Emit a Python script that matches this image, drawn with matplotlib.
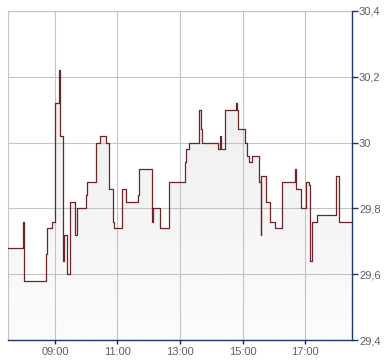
import numpy as np
import pandas as pd
import matplotlib
matplotlib.use("Agg")
import matplotlib.pyplot as plt
import matplotlib.dates as mdates
from matplotlib.ticker import FuncFormatter

plt.rcParams['font.family'] = ['Liberation Sans', 'DejaVu Sans']

# intraday trades (step line, value holds until next time)
times = ["07:30", "07:59", "08:00", "08:43", "08:45", "08:54", "09:00", "09:01",
         "09:07", "09:10", "09:15", "09:17", "09:23", "09:29", "09:38", "09:43",
         "09:59", "10:01", "10:19", "10:26", "10:38", "10:43", "10:52", "10:54",
         "11:08", "11:17", "11:40", "11:42", "12:07", "12:08", "12:21", "12:38",
         "13:10", "13:11", "13:17", "13:36", "13:40", "13:42", "14:12", "14:16",
         "14:18", "14:26", "14:47", "14:49", "14:52", "15:04", "15:08", "15:13",
         "15:19", "15:32", "15:35", "15:36", "15:45", "15:53", "16:03", "16:16",
         "16:41", "16:43", "16:52", "17:02", "17:08", "17:10", "17:13", "17:23",
         "17:59", "18:05", "18:30"]
prices = [29.68, 29.76, 29.58, 29.66, 29.74, 29.76, 29.80, 30.12,
          30.22, 30.02, 29.64, 29.72, 29.60, 29.82, 29.72, 29.80,
          29.84, 29.88, 30.00, 30.02, 30.00, 29.86, 29.76, 29.74,
          29.86, 29.82, 29.84, 29.92, 29.76, 29.80, 29.74, 29.88,
          29.94, 29.98, 30.00, 30.10, 30.04, 30.00, 29.98, 30.02,
          29.98, 30.10, 30.12, 30.10, 30.04, 30.00, 29.96, 29.94,
          29.96, 29.88, 29.72, 29.90, 29.82, 29.76, 29.74, 29.88,
          29.92, 29.86, 29.80, 29.88, 29.87, 29.64, 29.76, 29.78,
          29.90, 29.76, 29.76]
x_ticks = ["09:00", "11:00", "13:00", "15:00", "17:00"]
y_ticks = [29.4, 29.6, 29.8, 30.0, 30.2, 30.4]

day = "2024-01-02 "
t = pd.to_datetime([day + s for s in times])
tx = mdates.date2num(t)
x0 = mdates.date2num(pd.Timestamp(day + "07:30"))
x1 = mdates.date2num(pd.Timestamp(day + "18:30"))
y0, y1 = 29.4, 30.4

navy = '#1c3768'
grid_c = '#c3c3c3'
line_c = '#6e2327'

fig = plt.figure(figsize=(3.9, 3.64), dpi=100)
ax = fig.add_axes([8 / 390, 24 / 364, 344 / 390, 329 / 364])

# gradient fill under the step line (light at bottom, grayer at top)
poly = ax.fill_between(tx, prices, y0, step='post', facecolor='none', edgecolor='none')
grad = np.linspace(0.985, 0.915, 256).reshape(-1, 1)
im = ax.imshow(grad, extent=[x0, x1, y0, y1], aspect='auto', cmap='gray',
               vmin=0, vmax=1, origin='lower', zorder=1)
im.set_clip_path(poly.get_paths()[0], transform=ax.transData)

ax.step(tx, prices, where='post', color=line_c, lw=0.9, zorder=3)

ax.set_xlim(x0, x1)
ax.set_ylim(y0, y1)
ax.set_xticks([mdates.date2num(pd.Timestamp(day + s)) for s in x_ticks])
ax.set_xticklabels(x_ticks)
ax.set_yticks(y_ticks)
ax.yaxis.set_major_formatter(FuncFormatter(lambda v, p: f"{v:g}".replace('.', ',')))
ax.yaxis.tick_right()

ax.grid(True, color=grid_c, lw=0.8)
ax.set_axisbelow('line')
for s in ['top', 'left']:
    ax.spines[s].set_color(grid_c)
    ax.spines[s].set_linewidth(0.8)
for s in ['right', 'bottom']:
    ax.spines[s].set_color(navy)
    ax.spines[s].set_linewidth(1.0)
    ax.spines[s].set_zorder(4)

ax.tick_params(axis='y', which='both', right=True, left=False, length=4, width=1,
               color=navy, labelcolor='#606060', labelsize=8, pad=1)
ax.tick_params(axis='x', length=3, width=1, color='#222222', labelcolor='#606060',
               labelsize=8, pad=2)

fig.savefig("out.png", dpi=100)
